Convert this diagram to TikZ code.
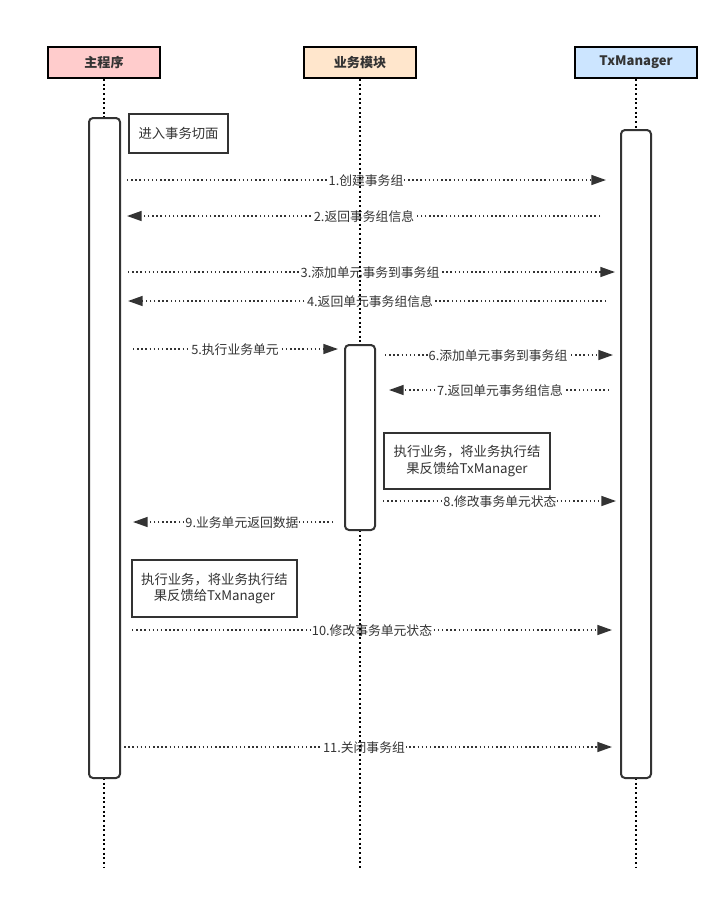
\documentclass[tikz,border=0pt]{standalone}
\usepackage{fontspec}
\setmainfont{Noto Sans CJK SC}
\usetikzlibrary{arrows.meta,fit}
\definecolor{pinkc}{HTML}{FFCCCC}
\definecolor{orangec}{HTML}{FFE6CC}
\definecolor{bluec}{HTML}{CCE5FF}
\definecolor{ink}{HTML}{333333}
\tikzset{
  hdr/.style={draw=black, line width=1.5pt, minimum width=84pt, minimum height=23.25pt, inner sep=0pt, font=\fontsize{9.8}{11}\selectfont\bfseries, text=ink},
  actbox/.style={draw=ink, fill=white, line width=1.5pt, rounded corners=3pt, inner sep=0pt},
  notebox/.style={draw=ink, fill=white, line width=1.5pt, inner sep=0pt, align=center, font=\fontsize{10}{12.5}\selectfont, text=ink},
  lifeln/.style={draw=black, line width=1.5pt, dash pattern=on 1.5pt off 2pt},
  msg/.style={draw=ink, line width=1.1pt, dash pattern=on 1.1pt off 2pt, -{Triangle[length=11pt,width=7.5pt]}},
  lbl/.style={fill=white, inner sep=0.6pt, font=\fontsize{9.6}{11}\selectfont, text=ink}
}
\begin{document}
\begin{tikzpicture}[x=0.75pt,y=-0.75pt]
\useasboundingbox (0,0) rectangle (728,901);
% headers
\node[hdr, fill=pinkc] (hA) at (104,62.5) {主程序};
\node[hdr, fill=orangec] (hB) at (360,62.5) {业务模块};
\node[hdr, fill=bluec, minimum width=91.5pt] (hC) at (636,62.5) {TxManager};
% message endpoints
\coordinate (m1s) at (127,180); \coordinate (m1e) at (606,180);
\coordinate (m2s) at (600,216); \coordinate (m2e) at (127,216);
\coordinate (m3s) at (128,272); \coordinate (m3e) at (615,272);
\coordinate (m4s) at (606,301); \coordinate (m4e) at (128,301);
\coordinate (m5s) at (133,349); \coordinate (m5e) at (338,349);
\coordinate (m6s) at (385,355); \coordinate (m6e) at (613,355);
\coordinate (m7s) at (609,390); \coordinate (m7e) at (389,390);
\coordinate (m8s) at (383,501); \coordinate (m8e) at (616,501);
\coordinate (m9s) at (333,522); \coordinate (m9e) at (133,522);
\coordinate (m10s) at (132,630); \coordinate (m10e) at (612,630);
\coordinate (m11s) at (120,747); \coordinate (m11e) at (612,747);
\draw[msg] (m1s) -- (m1e);
\draw[msg] (m2s) -- (m2e);
\draw[msg] (m3s) -- (m3e);
\draw[msg] (m4s) -- (m4e);
\draw[msg] (m5s) -- (m5e);
\draw[msg] (m6s) -- (m6e);
\draw[msg] (m7s) -- (m7e);
\draw[msg] (m8s) -- (m8e);
\draw[msg] (m9s) -- (m9e);
\draw[msg] (m10s) -- (m10e);
\draw[msg] (m11s) -- (m11e);
\node[lbl] (l1) at (366,181) {1.创建事务组};
\node[lbl] (l2) at (364,217) {2.返回事务组信息};
\node[lbl] (l3) at (370,273) {3.添加单元事务到事务组};
\node[lbl] (l4) at (370,302) {4.返回单元事务组信息};
\node[lbl] (l5) at (235,350) {5.执行业务单元};
\node[lbl] (l6) at (498,356) {6.添加单元事务到事务组};
\node[lbl] (l7) at (500,391) {7.返回单元事务组信息};
\node[lbl] (l8) at (500,502) {8.修改事务单元状态};
\node[lbl] (l9) at (242,523) {9.业务单元返回数据};
\node[lbl] (l10) at (372,631) {10.修改事务单元状态};
\node[lbl] (l11) at (364,748) {11.关闭事务组};
% lifelines
\coordinate (aTop) at (104,118); \coordinate (aBot) at (104,778); \coordinate (aEnd) at (104,868);
\coordinate (bTop) at (360,345); \coordinate (bBot) at (360,530); \coordinate (bEnd) at (360,868);
\coordinate (cTop) at (636,130); \coordinate (cBot) at (636,778); \coordinate (cEnd) at (636,868);
\draw[lifeln] (hA.south) -- (aTop) (aBot) -- (aEnd);
\draw[lifeln] (hB.south) -- (bTop) (bBot) -- (bEnd);
\draw[lifeln] (hC.south) -- (cTop) (cBot) -- (cEnd);
% activations
\node[actbox, fit={(89,118) (120,778)}] (actA) {};
\node[actbox, fit={(345,345) (375,530)}] (actB) {};
\node[actbox, fit={(621,130) (651,778)}] (actC) {};
% notes
\node[notebox, minimum width=74.25pt, minimum height=29.25pt] (n1) at (178.5,133.5) {进入事务切面};
\node[notebox, minimum width=124.5pt, minimum height=42pt] (n2) at (467,461) {执行业务，将业务执行结\\果反馈给TxManager};
\node[notebox, minimum width=123.75pt, minimum height=42.75pt] (n3) at (214.5,588.5) {执行业务，将业务执行结\\果反馈给TxManager};
\end{tikzpicture}
\end{document}
